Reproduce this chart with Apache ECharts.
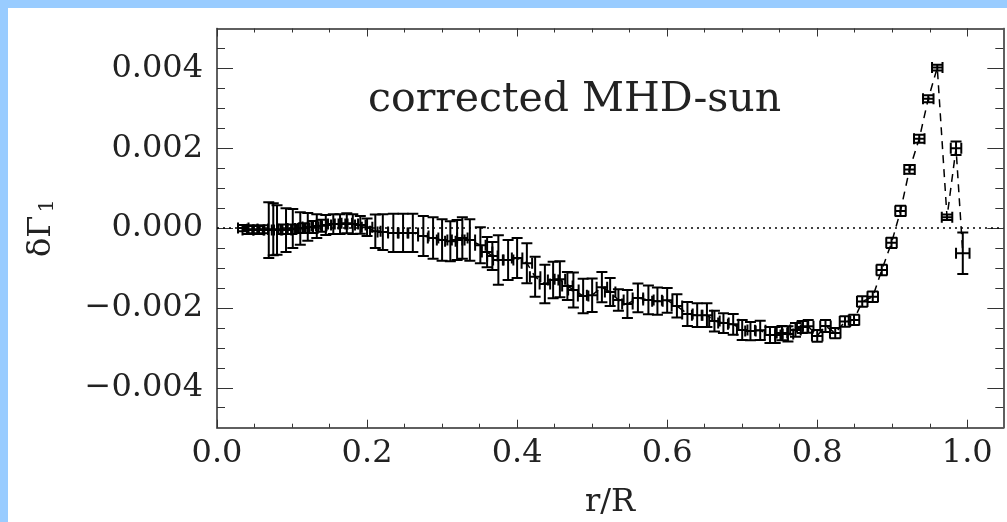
<!DOCTYPE html>
<html><head><meta charset="utf-8">
<script src="https://cdn.jsdelivr.net/npm/echarts@6/dist/echarts.min.js"></script>
<style>
html,body{margin:0;padding:0;background:#99ccff;width:1007px;height:522px;overflow:hidden}
#c{position:absolute;left:8px;top:8px;width:999px;height:514px;background:#fff}
</style></head><body><div id="c"></div>
<script>
const rValues=[0.035,0.041,0.047,0.056,0.061,0.069,0.075,0.080,0.087,0.092,
0.099,0.101,0.111,0.116,0.121,0.128,0.133,0.139,0.145,0.155,
0.164,0.173,0.181,0.191,0.200,0.211,0.221,0.235,0.248,0.261,
0.275,0.288,0.300,0.311,0.320,0.327,0.337,0.351,0.360,0.367,
0.375,0.388,0.400,0.413,0.424,0.437,0.448,0.457,0.467,0.475,
0.488,0.500,0.513,0.524,0.535,0.547,0.561,0.575,0.587,0.600,
0.613,0.627,0.640,0.653,0.663,0.675,0.688,0.700,0.711,0.724,
0.737,0.744,0.753,0.761,0.771,0.780,0.788,0.800,0.811,0.824,
0.837,0.849,0.860,0.874,0.886,0.899,0.911,0.923,0.936,0.948,
0.960,0.973,0.985,0.994];
const dGamma=[0.00000,-0.00005,-0.00003,-0.00005,-0.00003,-0.00005,-0.00003,-0.00005,-0.00003,-0.00005,
-0.00003,-0.00001,-0.00001,0.00000,0.00003,0.00003,0.00005,0.00006,0.00008,0.00010,
0.00010,0.00012,0.00010,0.00008,0.00002,-0.00008,-0.00010,-0.00012,-0.00012,-0.00012,
-0.00020,-0.00025,-0.00030,-0.00033,-0.00030,-0.00025,-0.00030,-0.00043,-0.00060,-0.00070,
-0.00080,-0.00080,-0.00075,-0.00088,-0.00122,-0.00140,-0.00130,-0.00128,-0.00145,-0.00155,
-0.00170,-0.00168,-0.00148,-0.00160,-0.00180,-0.00190,-0.00175,-0.00180,-0.00183,-0.00181,
-0.00195,-0.00215,-0.00218,-0.00218,-0.00233,-0.00238,-0.00241,-0.00255,-0.00258,-0.00256,
-0.00268,-0.00268,-0.00263,-0.00265,-0.00255,-0.00248,-0.00246,-0.00270,-0.00245,-0.00263,
-0.00234,-0.00230,-0.00184,-0.00172,-0.00105,-0.00037,0.00043,0.00147,0.00224,0.00324,
0.00402,0.00027,0.00200,-0.00063];
const dGammaErr=[0.00008,0.0001,0.0001,0.0001,0.0001,0.0007,0.00065,0.00062,0.00012,0.00055,
0.00012,0.00049,0.00041,0.00012,0.00035,0.00015,0.0003,0.00015,0.00025,0.00025,
0.00025,0.00025,0.00025,0.00022,0.00022,0.00042,0.00045,0.00048,0.00048,0.00048,
0.0005,0.00052,0.00052,0.0005,0.0005,0.00052,0.00052,0.00045,0.00038,0.00035,
0.00062,0.0005,0.0005,0.0005,0.0005,0.00048,0.00046,0.00045,0.00035,0.00044,
0.00043,0.00042,0.00038,0.00035,0.00027,0.00035,0.00036,0.00036,0.00034,0.00031,
0.00029,0.0003,0.0003,0.0003,0.00026,0.00025,0.00026,0.00025,0.00023,0.00024,
0.0002,0.0002,0.00018,0.00019,0.00017,0.00015,0.00016,0.00015,0.00015,0.00013,
0.00013,0.00013,0.00013,0.00013,0.00013,0.00013,0.00013,0.00011,0.0001,0.00009,
0.00007,0.00007,0.00017,0.00052];
const rErr=[0.007,0.007,0.007,0.007,0.007,0.007,0.007,0.007,0.007,0.007,
0.007,0.007,0.007,0.007,0.007,0.007,0.007,0.007,0.007,0.007,
0.007,0.007,0.007,0.007,0.007,0.007,0.007,0.007,0.007,0.007,
0.007,0.007,0.007,0.007,0.007,0.007,0.007,0.007,0.007,0.007,
0.007,0.007,0.007,0.007,0.007,0.007,0.007,0.007,0.007,0.007,
0.007,0.007,0.007,0.007,0.007,0.007,0.007,0.007,0.007,0.007,
0.007,0.007,0.007,0.007,0.007,0.007,0.007,0.007,0.007,0.007,
0.007,0.007,0.007,0.007,0.007,0.007,0.007,0.007,0.007,0.007,
0.007,0.007,0.007,0.007,0.007,0.007,0.007,0.007,0.007,0.007,
0.007,0.007,0.007,0.009];
const xMajorTicks=[0,0.2,0.4,0.6,0.8,1.0];
const xMinorTicks=[0,0.05,0.1,0.15,0.2,0.25,0.3,0.35,0.4,0.45,0.5,0.55,0.6,0.65,0.7,0.75,0.8,0.85,0.9,0.95,1.0];
const yMajorTicks=[-0.004,-0.002,0,0.002,0.004];
const yMinorTicks=[-0.0045,-0.004,-0.0035,-0.003,-0.0025,-0.002,-0.0015,-0.001,-0.0005,0,0.0005,0.001,0.0015,0.002,0.0025,0.003,0.0035,0.004,0.0045];
const titleText='corrected MHD-sun';
const xName='r/R';

const FONT='DejaVu Serif';
const AX='#555';
const TXT='#222';
const X_MIN=0, X_MAX=1.048, Y_MIN=-0.005, Y_MAX=0.005;

function xAxisDef(pos, ticks, len, labels){
  return {type:'value', min:X_MIN, max:X_MAX, position:pos,
    axisLine:{show:true, onZero:false, lineStyle:{color:AX,width:1.5}},
    axisTick:{show:true, inside:true, length:len, customValues:ticks, lineStyle:{color:'#333',width:1}},
    axisLabel:labels?{show:true, customValues:xMajorTicks, margin:10, fontFamily:FONT, fontSize:32, color:TXT,
      formatter:v=>v.toFixed(1)}:{show:false},
    splitLine:{show:false}};
}
function yAxisDef(pos, ticks, len, labels){
  return {type:'value', min:Y_MIN, max:Y_MAX, position:pos,
    axisLine:{show:true, onZero:false, lineStyle:{color:AX,width:1.5}},
    axisTick:{show:true, inside:true, length:len, customValues:ticks, lineStyle:{color:'#333',width:1}},
    axisLabel:labels?{show:true, customValues:yMajorTicks, margin:14, fontFamily:FONT, fontSize:32, color:TXT,
      formatter:v=>(Math.abs(v)<1e-12?0:v).toFixed(3).replace('-','\u2212')}:{show:false},
    splitLine:{show:false}};
}

const errData=rValues.map((r,i)=>[r,dGamma[i],rErr[i],dGammaErr[i]]);
const lineData=rValues.map((r,i)=>[r,dGamma[i]]);

function renderErr(params, api){
  const x=api.value(0), y=api.value(1), ex=api.value(2), ey=api.value(3);
  const t=api.coord([x,y+ey]), b=api.coord([x,y-ey]);
  const l=api.coord([x-ex,y]), r=api.coord([x+ex,y]);
  const cap=5.5;
  const st={stroke:'#000', lineWidth:2};
  const L=(x1,y1,x2,y2)=>({type:'line', shape:{x1,y1,x2,y2}, style:st});
  return {type:'group', children:[
    L(t[0],t[1],b[0],b[1]),
    L(t[0]-cap,t[1],t[0]+cap,t[1]),
    L(b[0]-cap,b[1],b[0]+cap,b[1]),
    L(l[0],l[1],r[0],r[1]),
    L(l[0],l[1]-cap,l[0],l[1]+cap),
    L(r[0],r[1]-cap,r[0],r[1]+cap)
  ]};
}

const chart=echarts.init(document.getElementById('c'),null,{renderer:'canvas'});
chart.setOption({
  animation:false,
  backgroundColor:'#fff',
  grid:{left:209, top:20.5, right:3.7, bottom:94.3, containLabel:false},
  xAxis:[xAxisDef('bottom',xMajorTicks,8,true), xAxisDef('bottom',xMinorTicks,4,false),
         xAxisDef('top',xMajorTicks,8,false), xAxisDef('top',xMinorTicks,4,false)],
  yAxis:[yAxisDef('left',yMajorTicks,16,true), yAxisDef('left',yMinorTicks,8,false),
         yAxisDef('right',yMajorTicks,16,false), yAxisDef('right',yMinorTicks,8,false)],
  graphic:[
    {type:'text', left:360, top:72, style:{text:titleText, fontFamily:FONT, fontSize:41, fill:TXT}},
    {type:'text', x:602, y:495, style:{text:xName, fontFamily:FONT, fontSize:32, fill:TXT, align:'center', verticalAlign:'middle'}},
    {type:'text', x:34, y:220, rotation:Math.PI/2, style:{text:'{g|\u03b4\u0393}{s|1}', align:'center', verticalAlign:'middle',
      rich:{g:{fontFamily:FONT, fontSize:32, fill:TXT}, s:{fontFamily:FONT, fontSize:21, fill:TXT, verticalAlign:'bottom', padding:[10,0,0,3]}}}}
  ],
  series:[
    {type:'line', data:lineData, xAxisIndex:0, yAxisIndex:0, symbol:'none', z:2,
     lineStyle:{color:'#000', width:1.5, type:[8,6]},
     markLine:{silent:true, symbol:'none', label:{show:false}, lineStyle:{type:[2,4], color:'#000', width:1.5},
       data:[{yAxis:0}]}},
    {type:'custom', data:errData, xAxisIndex:0, yAxisIndex:0, renderItem:renderErr, z:3, clip:true}
  ]
});
</script></body></html>
